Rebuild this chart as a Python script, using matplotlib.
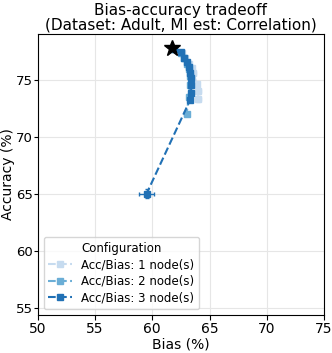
import matplotlib
matplotlib.use('Agg')
import matplotlib.pyplot as plt

# baseline (no constraint)
base_bias = 61.75
base_acc = 77.8

labels = ['Acc/Bias: 1 node(s)', 'Acc/Bias: 2 node(s)', 'Acc/Bias: 3 node(s)']
colors = ['#c6dbef', '#6baed6', '#2171b5']

bias_1 = [61.9, 62.6, 62.9, 63.2, 63.5, 63.6, 63.9, 64.0, 64.0]
acc_1 = [77.7, 77.3, 76.9, 76.4, 76.0, 75.6, 74.6, 74.0, 73.3]
bias_err_1 = [0.1, 0.1, 0.1, 0.15, 0.15, 0.2, 0.2, 0.25, 0.25]
acc_err_1 = [0.1, 0.1, 0.1, 0.15, 0.15, 0.2, 0.2, 0.25, 0.25]

bias_2 = [61.9, 62.5, 62.8, 63.0, 63.2, 63.3, 63.3, 63.2, 63.0]
acc_2 = [77.7, 77.3, 76.9, 76.4, 75.9, 75.3, 74.5, 73.5, 72.0]
bias_err_2 = [0.1, 0.1, 0.1, 0.1, 0.15, 0.15, 0.2, 0.2, 0.2]
acc_err_2 = [0.1, 0.1, 0.1, 0.1, 0.15, 0.15, 0.2, 0.2, 0.2]

bias_3 = [61.9, 62.5, 62.8, 63.0, 63.2, 63.3, 63.4, 63.4, 63.4, 63.3, 59.5]
acc_3 = [77.7, 77.4, 76.9, 76.5, 76.1, 75.6, 75.1, 74.5, 73.8, 73.2, 65.0]
bias_err_3 = [0.1, 0.1, 0.1, 0.1, 0.1, 0.15, 0.15, 0.15, 0.2, 0.2, 0.65]
acc_err_3 = [0.1, 0.1, 0.1, 0.1, 0.1, 0.15, 0.15, 0.15, 0.2, 0.2, 0.4]

series = [(bias_1, acc_1, bias_err_1, acc_err_1),
          (bias_2, acc_2, bias_err_2, acc_err_2),
          (bias_3, acc_3, bias_err_3, acc_err_3)]

fig = plt.figure(figsize=(3.32, 3.53), dpi=100)
ax = fig.add_axes([0.1136, 0.108, 0.8624, 0.796])

for (b, a, be, ae), lab, c in zip(series, labels, colors):
    ax.errorbar(b, a, xerr=be, yerr=ae, fmt='none', ecolor=c,
                capsize=1.5, elinewidth=1)
    ax.plot(b, a, 's--', color=c, ms=5, label=lab)

ax.plot(base_bias, base_acc, marker='*', color='black', ms=12, linestyle='none', zorder=5)

ax.set_xlim(50, 75)
ax.set_ylim(54.4, 79)
ax.set_xticks([50, 55, 60, 65, 70, 75])
ax.set_yticks([55, 60, 65, 70, 75])
ax.grid(True, color='#e6e6e6', linewidth=0.8)
ax.set_axisbelow(True)
ax.tick_params(axis='x', labelsize=10, pad=1.5)
ax.tick_params(axis='y', labelsize=9.5, pad=0.5, length=3)
ax.set_xlabel('Bias (%)', fontsize=10, labelpad=1)
ax.set_ylabel('Accuracy (%)', fontsize=10)
ax.yaxis.set_label_coords(-0.08, 0.5)
ax.set_title('Bias-accuracy tradeoff\n(Dataset: Adult, MI est: Correlation)', fontsize=11,
             linespacing=1.0, pad=3)
ax.legend(title='Configuration', loc='lower left', fontsize=8.5, title_fontsize=8.5,
          labelspacing=0.3, borderaxespad=0.5)

fig.savefig('out.png', dpi=100)
